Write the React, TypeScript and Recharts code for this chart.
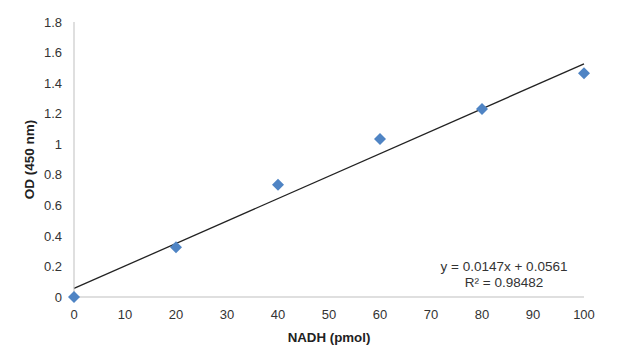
import { ComposedChart, Scatter, Line, XAxis, YAxis, Customized } from 'recharts';

const nadh = [0, 20, 40, 60, 80, 100];
const od = [0, 0.325, 0.735, 1.035, 1.23, 1.465];

// trendline endpoints as printed by the equation on the chart
const trendX = [0, 100];
const trendY = [0.0561, 1.5261];

const xTicks = [0, 10, 20, 30, 40, 50, 60, 70, 80, 90, 100];
const yTicks = [0, 0.2, 0.4, 0.6, 0.8, 1, 1.2, 1.4, 1.6, 1.8];

const equation = 'y = 0.0147x + 0.0561';
const rSquared = 'R² = 0.98482';

const points = nadh.map((x, i) => ({ x, y: od[i] }));
const trend = trendX.map((x, i) => ({ x, y: trendY[i] }));

const font = '"Liberation Sans", Arial, sans-serif';

function Diamond(props: any) {
  const { cx, cy } = props;
  const r = 6;
  return (
    <polygon
      points={`${cx},${cy - r} ${cx + r},${cy} ${cx},${cy + r} ${cx - r},${cy}`}
      fill="#4f84c4"
    />
  );
}

function EquationLabel() {
  return (
    <g fontFamily={font} fontSize={13.5} fill="#333">
      <text x={504} y={271} textAnchor="middle">{equation}</text>
      <text x={504} y={287} textAnchor="middle">{rSquared}</text>
    </g>
  );
}

export default function App() {
  return (
    <div style={{ position: 'absolute', left: 0, top: 0, width: 640, height: 364, background: '#fff' }}>
      <ComposedChart width={640} height={364} margin={{ top: 22, right: 56, bottom: 17, left: 0 }}>
        <XAxis
          type="number"
          dataKey="x"
          domain={[0, 100]}
          ticks={xTicks}
          tickLine={false}
          tickMargin={7}
          height={50}
          stroke="#bfbfbf"
          tick={{ fill: '#333', fontSize: 13, fontFamily: font }}
          label={{ value: 'NADH (pmol)', position: 'insideBottom', offset: 5, style: { fontFamily: font, fontSize: 13.3, fontWeight: 'bold', fill: '#222' } }}
        />
        <YAxis
          type="number"
          dataKey="y"
          domain={[0, 1.8]}
          ticks={yTicks}
          tickLine={false}
          tickMargin={6}
          width={74}
          stroke="#bfbfbf"
          tick={{ fill: '#333', fontSize: 13, fontFamily: font }}
          label={{ value: 'OD (450 nm)', angle: -90, position: 'insideLeft', offset: 29, style: { textAnchor: 'middle', fontFamily: font, fontSize: 13.5, fontWeight: 'bold', fill: '#222' } }}
        />
        <Line data={trend} dataKey="y" stroke="#222" strokeWidth={1.3} dot={false} isAnimationActive={false} />
        <Scatter data={points} dataKey="y" shape={Diamond} isAnimationActive={false} />
        <Customized component={EquationLabel} />
      </ComposedChart>
    </div>
  );
}
